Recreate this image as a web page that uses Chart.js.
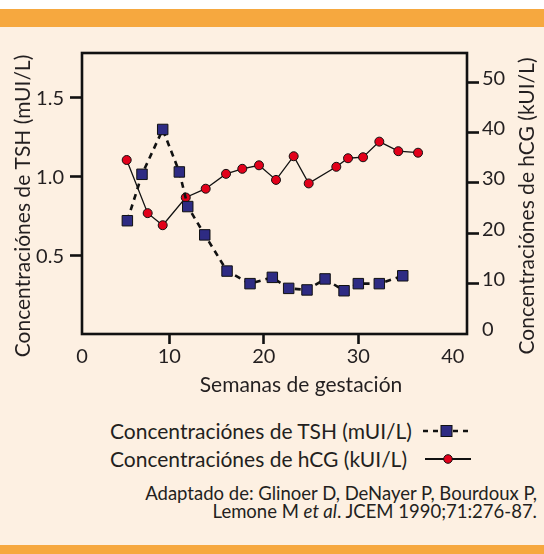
<!DOCTYPE html>
<html>
<head>
<meta charset="utf-8">
<script src="https://cdn.jsdelivr.net/npm/chart.js@4.4.1/dist/chart.umd.min.js"></script>
<style>
  html, body { margin: 0; padding: 0; }
  body {
    width: 544px; height: 554px; position: relative; overflow: hidden;
    background: #ffffff; font-family: Lato, "Open Sans", sans-serif; color: #231f20;
  }
  .panel { position: absolute; left: 0; top: 9px; width: 544px; height: 545px; background: #fdf0e2; }
  .band { position: absolute; left: 0; width: 544px; background: #f6a83f; }
  .band.top { top: 9px; height: 18px; }
  .band.bottom { top: 545px; height: 9px; }
  #chart { position: absolute; left: 0; top: 0; }
  .legend-text { position: absolute; left: 110px; font-size: 21px; line-height: 24px; white-space: nowrap; }
  .legend-key { position: absolute; left: 420px; }
  .caption {
    position: absolute; right: 7px; top: 484px; font-size: 18.5px; line-height: 18px;
    text-align: right; white-space: nowrap;
  }
</style>
</head>
<body>
<div class="panel"></div>
<div class="band top"></div>
<div class="band bottom"></div>
<canvas id="chart" width="544" height="400"></canvas>

<div class="legend-text" style="top:419px">Concentraciónes de TSH (mUI/L)</div>
<svg class="legend-key" style="top:421px" width="56" height="20">
  <line x1="3" y1="10" x2="52" y2="10" stroke="#111" stroke-width="2.5" stroke-dasharray="5 5"/>
  <rect x="21" y="4.5" width="11" height="11" fill="#2e2b83" stroke="#111" stroke-width="1"/>
</svg>
<div class="legend-text" style="top:447px">Concentraciónes de hCG (kUI/L)</div>
<svg class="legend-key" style="top:449px" width="56" height="20">
  <line x1="5" y1="10" x2="51" y2="10" stroke="#111" stroke-width="2"/>
  <circle cx="28" cy="10" r="4.3" fill="#e2001a" stroke="#111" stroke-width="1"/>
</svg>

<div class="caption">Adaptado de: Glinoer D, DeNayer P, Bourdoux P,<br>Lemone M <i>et al</i>. JCEM 1990;71:276-87.</div>

<script>
// semanas de gestación / valores
const tshWeeks = [5.56, 7.11, 9.30, 11.06, 11.95, 13.75, 16.11, 18.54, 20.90, 22.63, 24.57, 26.48, 28.49, 30.0, 32.22, 34.70];
const tshValues = [0.72, 1.015, 1.30, 1.03, 0.81, 0.63, 0.40, 0.32, 0.36, 0.29, 0.28, 0.35, 0.275, 0.32, 0.32, 0.37];
const hcgWeeks = [5.49, 7.71, 9.30, 11.74, 13.85, 16.0, 17.72, 19.49, 21.29, 23.16, 24.75, 27.67, 28.91, 30.50, 32.22, 34.23, 36.32];
const hcgValues = [34.55, 24.0, 21.6, 27.1, 28.85, 31.8, 32.8, 33.5, 30.6, 35.3, 29.9, 33.2, 34.9, 35.1, 38.2, 36.3, 36.0];

const xTicks = [0, 10, 20, 30, 40];
const tshTicks = [0.5, 1.0, 1.5];
const hcgTicks = [0, 10, 20, 30, 40, 50];

const tshTitle = 'Concentraciónes de TSH (mUI/L)';
const hcgTitle = 'Concentraciónes de hCG (kUI/L)';
const xTitle = 'Semanas de gestación';

const ink = '#231f20';
const family = 'Lato, "Open Sans", sans-serif';
const tickFont = { family, size: 20 };
const titleSize = 21;

// marco negro alrededor del área del gráfico
const framePlugin = {
  id: 'frame',
  beforeDatasetsDraw(chart) {
    const { ctx, chartArea: a } = chart;
    ctx.save();
    ctx.strokeStyle = '#111';
    ctx.lineWidth = 2.6;
    ctx.strokeRect(a.left, a.top, a.right - a.left, a.bottom - a.top);
    ctx.restore();
  }
};

// títulos de los ejes: en el original no están centrados respecto al marco
const axisTitles = {
  id: 'axisTitles',
  afterDraw(chart) {
    const ctx = chart.ctx;
    ctx.save();
    ctx.font = `${titleSize}px ${family}`;
    ctx.fillStyle = ink;
    ctx.textAlign = 'center';
    ctx.textBaseline = 'middle';
    [[23, 206, tshTitle], [527, 206, hcgTitle]].forEach(([x, y, text]) => {
      ctx.save();
      ctx.translate(x, y);
      ctx.rotate(-Math.PI / 2);
      ctx.fillText(text, 0, 0);
      ctx.restore();
    });
    ctx.fillText(xTitle, 301, 385);
    ctx.restore();
  }
};

const tickGrid = (len, hide) => ({
  display: true,
  drawOnChartArea: false,
  drawTicks: true,
  tickLength: len,
  tickWidth: 2.6,
  tickColor: (c) => hide(c) ? 'rgba(0,0,0,0)' : '#111'
});

new Chart(document.getElementById('chart'), {
  type: 'line',
  data: {
    datasets: [
      {
        label: tshTitle,
        data: tshWeeks.map((w, i) => ({ x: w, y: tshValues[i] })),
        yAxisID: 'yTsh',
        borderColor: '#111',
        borderWidth: 2.6,
        borderDash: [6, 5],
        pointStyle: 'rect',
        pointRadius: 7.4,
        pointBackgroundColor: '#2e2b83',
        pointBorderColor: '#111',
        pointBorderWidth: 1,
        tension: 0,
        clip: false
      },
      {
        label: hcgTitle,
        data: hcgWeeks.map((w, i) => ({ x: w, y: hcgValues[i] })),
        yAxisID: 'yHcg',
        borderColor: '#111',
        borderWidth: 1.3,
        pointStyle: 'circle',
        pointRadius: 4.5,
        pointBackgroundColor: '#e2001a',
        pointBorderColor: '#111',
        pointBorderWidth: 1,
        tension: 0,
        clip: false
      }
    ]
  },
  options: {
    responsive: false,
    animation: false,
    devicePixelRatio: 1,
    layout: { padding: { top: 53, left: 0, right: 0, bottom: 0 } },
    plugins: { legend: { display: false }, tooltip: { enabled: false } },
    scales: {
      x: {
        type: 'linear',
        min: 0.76,
        max: 41.5,
        afterBuildTicks: (s) => { s.ticks = xTicks.map(v => ({ value: Math.max(v, s.min) })); },
        afterFit: (s) => { s.height = 66; },
        border: { display: false },
        grid: tickGrid(10, c => c.index === 0 || c.index === xTicks.length - 1),
        ticks: { color: ink, font: tickFont, padding: 1, maxRotation: 0, autoSkip: false,
                 callback: (v, i) => String(xTicks[i]) }
      },
      yTsh: {
        type: 'linear',
        position: 'left',
        min: 0,
        max: 1.786,
        afterBuildTicks: (s) => { s.ticks = tshTicks.map(v => ({ value: v })); },
        afterFit: (s) => { s.width = 82; },
        border: { display: false },
        grid: tickGrid(12, () => false),
        ticks: { color: ink, font: tickFont, padding: 6, labelOffset: 1, callback: (v) => v.toFixed(1) }
      },
      yHcg: {
        type: 'linear',
        position: 'right',
        min: 0,
        max: 55.8,
        afterBuildTicks: (s) => { s.ticks = hcgTicks.map(v => ({ value: v })); },
        afterFit: (s) => { s.width = 77; },
        border: { display: false },
        grid: tickGrid(12, c => c.tick && c.tick.value === 0),
        ticks: { color: ink, font: tickFont, padding: 3, labelOffset: -4, callback: (v) => String(v) }
      }
    }
  },
  plugins: [framePlugin, axisTitles]
});
</script>
</body>
</html>
